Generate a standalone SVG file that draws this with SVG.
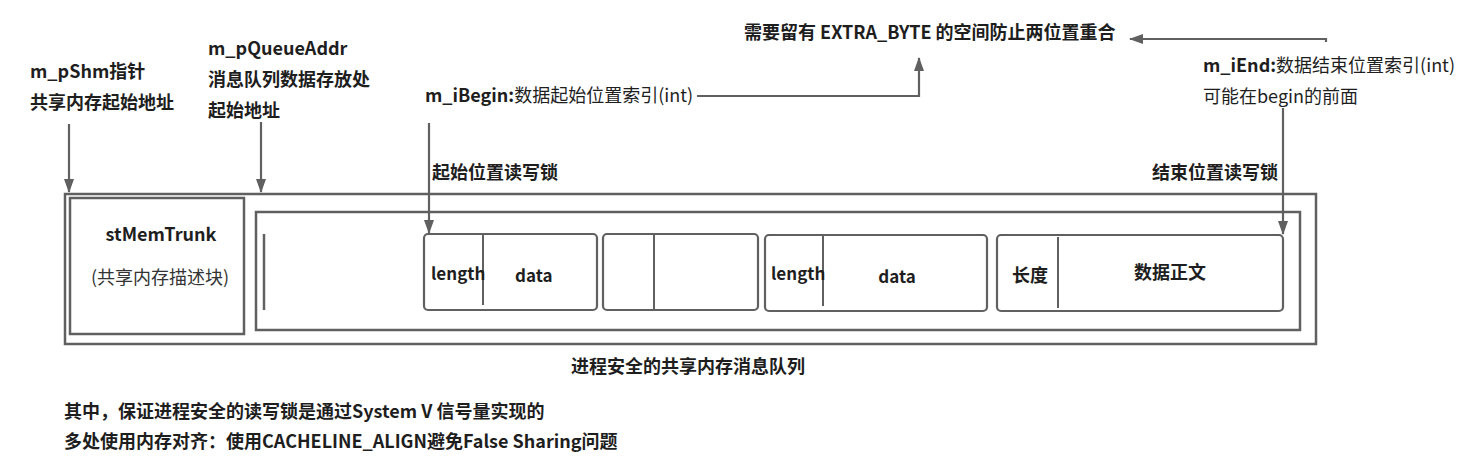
<svg xmlns="http://www.w3.org/2000/svg" width="1459" height="473" viewBox="0 0 1459 473">
<style>
text{font-family:"Microsoft YaHei","Noto Sans CJK SC","Noto Sans",sans-serif;font-size:18px;fill:#1e1e1e}
.b{font-weight:bold}
.r{font-weight:normal}
.m{text-anchor:middle}
.box{fill:#fff;stroke:#606060;stroke-width:2.5}
.blk{fill:#fff;stroke:#606060;stroke-width:2.2}
.div{fill:none;stroke:#606060;stroke-width:2}
.con{fill:none;stroke:#606060;stroke-width:2.2}
</style>
<defs>
<marker id="ah" viewBox="0 0 14 10" refX="13" refY="5" markerWidth="14" markerHeight="10" markerUnits="userSpaceOnUse" orient="auto">
<path d="M0,0 L14,5 L0,10 z" fill="#606060"/>
</marker>
</defs>
<rect width="1459" height="473" fill="#fff"/>

<g id="shm-queue">
<rect class="box" x="65" y="194" width="1251" height="150"/>
</g>
<g id="stMemTrunk">
<rect class="box" x="70" y="198" width="174" height="136"/>
<text class="b m" x="161" y="241">stMemTrunk</text>
<text class="r m" x="160" y="284" style="fill:#333">(共享内存描述块)</text>
</g>
<g id="queue-area">
<rect class="box" x="256" y="212" width="1044" height="118"/>
<line class="div" x1="264" y1="234" x2="264" y2="310" style="stroke-width:2.5"/>
</g>
<g id="block1">
<rect class="blk" x="424" y="234" width="173" height="76" rx="4"/>
<line class="div" x1="483" y1="234" x2="483" y2="305"/>
<text class="b" x="431" y="280" style="font-size:17px">length</text>
<text class="b" x="515" y="282" style="font-size:17px">data</text>
</g>
<g id="block2">
<rect class="blk" x="603" y="234" width="155" height="76" rx="4"/>
<line class="div" x1="654" y1="234" x2="654" y2="310"/>
</g>
<g id="block3">
<rect class="blk" x="765" y="235" width="222" height="76" rx="4"/>
<line class="div" x1="823" y1="235" x2="823" y2="306"/>
<text class="b" x="771" y="280" style="font-size:17px">length</text>
<text class="b m" x="897" y="283" style="font-size:17px">data</text>
</g>
<g id="block4">
<rect class="blk" x="997" y="235" width="286" height="76" rx="4"/>
<line class="div" x1="1058" y1="237" x2="1058" y2="308"/>
<text class="b" x="1012" y="282">长度</text>
<text class="b" x="1134" y="279">数据正文</text>
</g>

<g id="labels">
<text class="b" x="30" y="78">m_pShm指针</text>
<text class="b" x="30" y="109">共享内存起始地址</text>
<text class="b" x="208" y="55">m_pQueueAddr</text>
<text class="b" x="208" y="86">消息队列数据存放处</text>
<text class="b" x="208" y="117">起始地址</text>
<text x="425" y="102"><tspan class="b">m_iBegin:</tspan><tspan class="r">数据起始位置索引(int)</tspan></text>
<text class="b" x="744" y="39">需要留有 EXTRA_BYTE 的空间防止两位置重合</text>
<text x="1203" y="72"><tspan class="b">m_iEnd:</tspan><tspan class="r">数据结束位置索引(int)</tspan></text>
<text class="r" x="1203" y="103">可能在begin的前面</text>
<text class="b" x="432" y="179">起始位置读写锁</text>
<text class="b" x="1152" y="179">结束位置读写锁</text>
<text class="b" x="571" y="373">进程安全的共享内存消息队列</text>
<text class="b" x="64" y="418">其中，保证进程安全的读写锁是通过System V 信号量实现的</text>
<text class="b" x="64" y="448">多处使用内存对齐：使用CACHELINE_ALIGN避免False Sharing问题</text>
</g>

<g id="connectors">
<line class="con" x1="69" y1="124" x2="69" y2="192" marker-end="url(#ah)"/>
<line class="con" x1="261" y1="122" x2="261" y2="192" marker-end="url(#ah)"/>
<line class="con" x1="429" y1="123" x2="429" y2="233" marker-end="url(#ah)"/>
<path class="con" d="M697,96 H919 V58" marker-end="url(#ah)"/>
<line class="con" x1="1283" y1="108" x2="1283" y2="234" marker-end="url(#ah)"/>
<path class="con" d="M1326,42 V39 H1130" marker-end="url(#ah)"/>
</g>
</svg>
